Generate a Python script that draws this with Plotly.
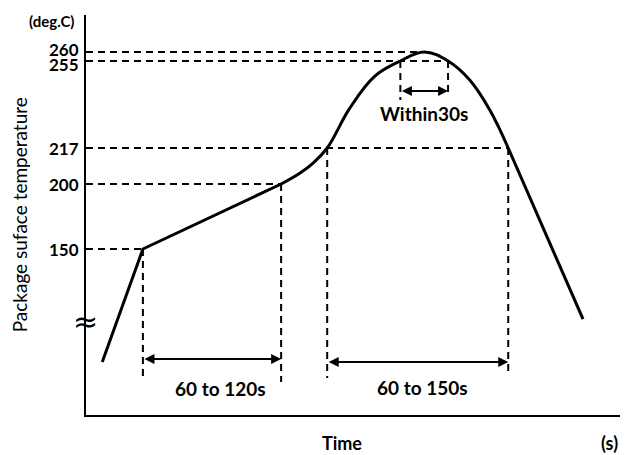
import numpy as np
import plotly.graph_objects as go

# ---- schematic temperature axis (broken below 150) ----
TEMP_TICKS = [150, 200, 217, 255, 260]
TICK_LEVELS = [41.5, 57.75, 66.75, 88.5, 90.75]


def lvl(t):
    t = np.asarray(t, dtype=float)
    out = np.interp(t, TEMP_TICKS, TICK_LEVELS)
    slope = (TICK_LEVELS[1] - TICK_LEVELS[0]) / (TEMP_TICKS[1] - TEMP_TICKS[0])
    return np.where(t < TEMP_TICKS[0], TICK_LEVELS[0] + (t - TEMP_TICKS[0]) * slope, out)


# ---- profile (schematic time units, deg.C) ----
RAMP_TIME = [3.0, 10.5, 36.0]
RAMP_TEMP = [63, 150, 200]
PEAK_TIME = [36.0, 39.5, 41.9, 44.5, 48.7, 53.3, 58.0, 62.4, 66.8, 70.8, 74.5, 77.9]
PEAK_TEMP = [200, 205.2, 209.9, 217, 234.5, 248.4, 255, 260, 255, 246.7, 233.6, 217]
COOL_TIME = [77.9, 91.7]
COOL_TEMP = [217, 96]

# horizontal guides: temperature -> time where the profile reaches it
H_TEMP = [150, 200, 217, 255, 260]
H_END_TIME = [10.5, 36.0, 77.9, 66.8, 62.4]

# vertical guides
V_TIME = [10.5, 36.0, 44.5, 77.9, 58.0, 66.8]
V_TEMP = [150, 200, 217, 217, 255, 255]
V_BOTTOM = [9.25, 8.25, 9.25, 10.0, 78.75, 80.5]

# time spans
SPAN_LABELS = ["60 to 120s", "60 to 150s", "Within30s"]
SPAN_START = [10.5, 44.5, 58.0]
SPAN_END = [36.0, 77.9, 66.8]
SPAN_LEVEL = [14.0, 13.25, 81.0]
LABEL_X = [24.9, 62.0, 62.4]
LABEL_LEVEL = [6.75, 7.0, 75.5]

TICK_SHIFT = [0, 0, 0, -3, 3]

FONT = "Lato"
BLACK = "#000000"

fig = go.Figure()

# dashed guides
hx, hy = [], []
for t, e in zip(H_TEMP, H_END_TIME):
    hx += [0, e, None]
    hy += [float(lvl(t)), float(lvl(t)), None]
vx, vy = [], []
for x, t, b in zip(V_TIME, V_TEMP, V_BOTTOM):
    vx += [x, x, None]
    vy += [float(lvl(t)), b, None]
fig.add_trace(go.Scatter(x=hx + vx, y=hy + vy, mode="lines",
                         line=dict(color=BLACK, width=2, dash="7px,5px"),
                         hoverinfo="skip", showlegend=False))

# profile
fig.add_trace(go.Scatter(x=RAMP_TIME, y=lvl(RAMP_TEMP), mode="lines",
                         line=dict(color=BLACK, width=3), showlegend=False))
fig.add_trace(go.Scatter(x=PEAK_TIME, y=lvl(PEAK_TEMP), mode="lines",
                         line=dict(color=BLACK, width=3, shape="spline", smoothing=1.1),
                         showlegend=False))
fig.add_trace(go.Scatter(x=COOL_TIME, y=lvl(COOL_TEMP), mode="lines",
                         line=dict(color=BLACK, width=3), showlegend=False))

ann = []
# tick labels
for t, lv, s in zip(TEMP_TICKS, TICK_LEVELS, TICK_SHIFT):
    ann.append(dict(x=0, y=lv, xref="x", yref="y", text=str(t), showarrow=False,
                    xanchor="right", yanchor="middle", xshift=-5, yshift=s,
                    font=dict(family=FONT, size=17, color=BLACK, weight="bold")))
# span arrows and labels
for lab, s, e, lv, lx, ll in zip(SPAN_LABELS, SPAN_START, SPAN_END, SPAN_LEVEL, LABEL_X, LABEL_LEVEL):
    ann.append(dict(x=e, y=lv, ax=s, ay=lv, xref="x", yref="y", axref="x", ayref="y",
                    text="", showarrow=True, arrowhead=2, arrowside="end+start",
                    arrowsize=1, arrowwidth=2, arrowcolor=BLACK, standoff=0, startstandoff=0))
    ann.append(dict(x=lx, y=ll, xref="x", yref="y", text=lab, showarrow=False,
                    font=dict(family=FONT, size=19, color=BLACK, weight="bold")))
# axis texts
ann.append(dict(x=-0.064, y=0.985, xref="paper", yref="paper", text="(deg.C)", showarrow=False,
                xanchor="center", yanchor="middle",
                font=dict(family=FONT, size=15, color=BLACK, weight="bold")))
ann.append(dict(x=-0.123, y=50, xref="paper", yref="y", text="Package suface temperature",
                textangle=-90, showarrow=False, xanchor="center", yanchor="middle",
                font=dict(family=FONT, size=19, color=BLACK)))
ann.append(dict(x=47.2, y=-0.07, xref="x", yref="paper", text="Time", showarrow=False,
                xanchor="center", yanchor="middle",
                font=dict(family=FONT, size=18, color=BLACK, weight="bold")))
ann.append(dict(x=1.0, y=-0.07, xref="paper", yref="paper", text="(s)", showarrow=False,
                xanchor="right", yanchor="middle", xshift=-8,
                font=dict(family=FONT, size=18, color=BLACK, weight="bold")))
# axis break mark
ann.append(dict(x=0, y=23.5, xref="x", yref="y", text="≈", showarrow=False,
                xanchor="center", yanchor="middle", xshift=-1,
                font=dict(family="DejaVu Sans", size=30, color=BLACK)))

# page body adds an 8px offset, so the figure is 8px smaller than the window
fig.update_layout(
    width=620, height=447,
    margin=dict(l=78, r=0, t=7, b=40),
    paper_bgcolor="white", plot_bgcolor="white",
    showlegend=False,
    annotations=ann,
    xaxis=dict(range=[0, 100], showline=True, linecolor=BLACK, linewidth=2,
               showgrid=False, zeroline=False, showticklabels=False, ticks=""),
    yaxis=dict(range=[0, 100], showline=True, linecolor=BLACK, linewidth=2,
               showgrid=False, zeroline=False, showticklabels=False, ticks=""),
)

fig.write_html("out.html")
